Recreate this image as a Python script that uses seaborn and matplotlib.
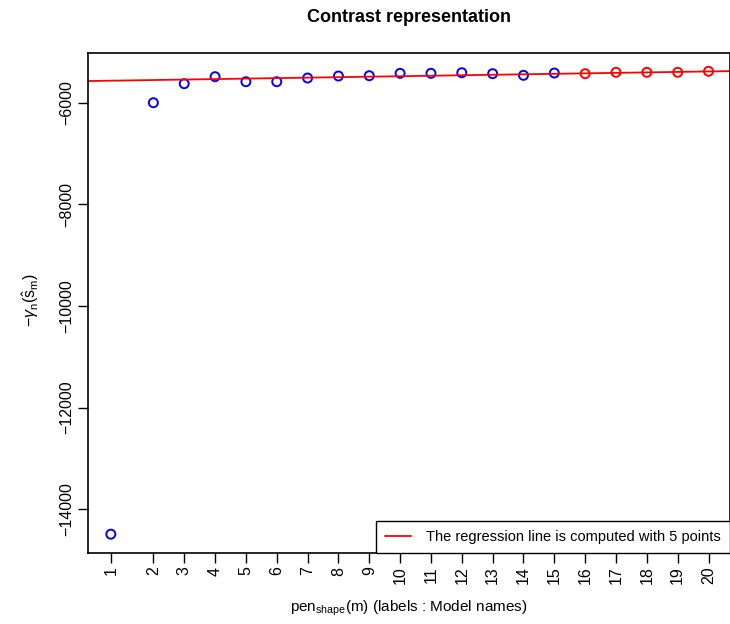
import numpy as np
import pandas as pd
import matplotlib
matplotlib.use("Agg")
import matplotlib.pyplot as plt
import seaborn as sns

# ---- data ----
model_names = ["1", "2", "3", "4", "5", "6", "7", "8", "9", "10",
               "11", "12", "13", "14", "15", "16", "17", "18", "19", "20"]
pen_shape = [0.62, 2, 3, 4, 5, 6, 7, 8, 9, 10,
             11, 12, 13, 14, 15, 16, 17, 18, 19, 20]
contrast = [-14490, -6000, -5626, -5488, -5587, -5587, -5514, -5475, -5469, -5422,
            -5422, -5410, -5429, -5461, -5416, -5429, -5402, -5402, -5402, -5382]
n_reg_points = 5
y_ticks = [-6000, -8000, -10000, -12000, -14000]

sns.set_style("ticks")
plt.rcParams["font.family"] = ["Liberation Sans", "DejaVu Sans"]
plt.rcParams["mathtext.fontset"] = "custom"
plt.rcParams["mathtext.rm"] = "Liberation Sans"
plt.rcParams["mathtext.it"] = "Liberation Sans:italic"
plt.rcParams["mathtext.sf"] = "Liberation Sans"
for k in ["text.color", "axes.labelcolor", "xtick.color", "ytick.color", "axes.edgecolor"]:
    plt.rcParams[k] = "black"

df = pd.DataFrame({"pen": pen_shape, "crit": contrast, "name": model_names})
df["group"] = ["fit" if i >= len(df) - n_reg_points else "other" for i in range(len(df))]

fig = plt.figure(figsize=(7.30, 6.24), dpi=100)
ax = fig.add_axes([88 / 730, 1 - 552.7 / 624, (729.5 - 88) / 730, (552.7 - 52.7) / 624])

ax.set_xlim(-0.12, 20.68)
ax.set_ylim(-14854, -5016)

sub_b = df[df["group"] == "other"]
sub_r = df[df["group"] == "fit"]
sns.scatterplot(data=sub_b, x="pen", y="crit", marker="o", s=42,
                facecolors="none", edgecolors="#0000ff", linewidth=1.4, ax=ax, legend=False)
sns.scatterplot(data=sub_r, x="pen", y="crit", marker="o", s=42,
                facecolors="none", edgecolors="#ff0000", linewidth=1.4, ax=ax, legend=False)

# regression line on last points
slope, intercept = np.polyfit(sub_r["pen"], sub_r["crit"], 1)
ax.axline((0, intercept), slope=slope, color="#ff0000", lw=1.3,
          label=f"The regression line is computed with {n_reg_points} points")

ax.set_xticks(pen_shape)
ax.set_xticklabels(model_names, rotation=90, fontsize=11.5)
ax.set_yticks(y_ticks)
ax.set_yticklabels([str(v).replace("-", "\u2212") for v in y_ticks], rotation=90,
                   fontsize=11.5, va="center")
ax.tick_params(axis="both", direction="out", length=7, width=1, color="black", pad=3)

for s in ax.spines.values():
    s.set_color("black")
    s.set_linewidth(1.2)
    s.set_visible(True)

ax.set_xlabel("")
ax.set_ylabel("")
fig.text(409 / 730, 1 - 608 / 624,
         r"$\mathrm{pen}_{\mathrm{shape}}(\mathrm{m})$ (labels : Model names)",
         ha="center", va="center", fontsize=11)
fig.text(31 / 730, 1 - 300 / 624, r"$-\gamma_{\mathrm{n}}(\hat{\mathrm{s}}_{\mathrm{m}})$",
         ha="center", va="center", rotation=90, fontsize=11.5)
fig.text(409 / 730, 1 - 18 / 624, "Contrast representation", ha="center", va="center",
         fontsize=13, fontweight="bold")

leg = ax.legend(loc="lower right", borderaxespad=0, fancybox=False, framealpha=1,
                edgecolor="black", fontsize=10.5, handlelength=1.8, borderpad=0.6,
                handletextpad=1.0)
leg.get_frame().set_linewidth(1.0)

fig.savefig("out.png", dpi=100)
